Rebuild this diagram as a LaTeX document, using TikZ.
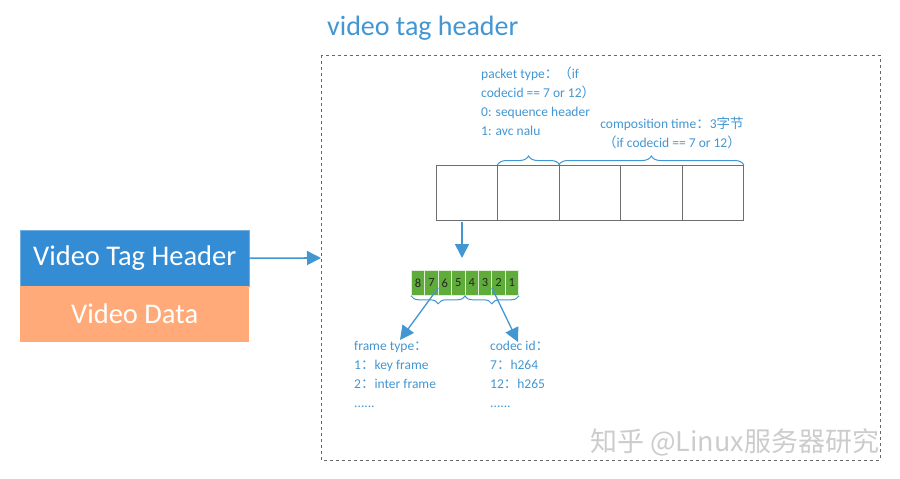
\documentclass[tikz,border=0pt]{standalone}
\usepackage{fontspec}
\setmainfont{Carlito}
\newfontfamily\cjk{Noto Sans CJK SC}
\usetikzlibrary{arrows.meta,decorations.pathreplacing}
\definecolor{tblue}{RGB}{66,150,210}
\definecolor{hblue}{RGB}{52,140,212}
\definecolor{dorange}{RGB}{255,170,120}
\definecolor{bgreen}{RGB}{96,172,58}
\definecolor{cellgray}{RGB}{110,110,110}
\tikzset{
  lbl/.style={text=tblue,font=\fontsize{13.5}{19}\selectfont,inner sep=0pt,anchor=north west,align=left},
  bytebox/.style={draw=cellgray,line width=0.9pt,minimum width=61.4pt,minimum height=55pt,inner sep=0pt},
  bitbox/.style={fill=bgreen,draw=white!80!bgreen,line width=0.8pt,minimum width=13.4pt,minimum height=25pt,inner sep=0pt,font=\fontsize{12.5}{12}\selectfont,text=black!85},
  conn/.style={draw=tblue,line width=1.6pt,-{Triangle[length=14pt,width=14pt]}},
  brc/.style={draw=tblue,line width=1pt,decorate,decoration={brace,amplitude=9pt}},
  bigbox/.style={minimum width=229pt,minimum height=56pt,inner sep=0pt,text=white,font=\fontsize{28.5}{28}\selectfont}
}
\newcommand{\fc}{{\cjk ：}}
\begin{document}
\begin{tikzpicture}[x=1pt,y=-1pt]
\useasboundingbox (0,0) rectangle (900,479);
\node[text=tblue,font=\fontsize{28}{28}\selectfont,anchor=base west,inner sep=0pt] (title) at (327,35) {video tag header};
\draw[dashed,draw=black!60,line width=0.8pt] (321,55) rectangle (880,460);
\node[bigbox,fill=hblue,draw=hblue!70!white,anchor=north west] (vth) at (20,230) {Video Tag Header};
\node[bigbox,fill=dorange,anchor=north west] (vd) at (20,286) {Video Data};
\coordinate (entry) at (321,258);
\draw[conn] (vth.east) -- (entry);
% byte boxes
\foreach \i in {0,...,4}{
  \node[bytebox,anchor=north west] (b\i) at (436+61.4*\i,165) {};
}
\draw[brc] (b1.north west) -- (b1.north east);
\draw[brc] (b2.north west) -- (b4.north east);
\node[lbl] (pt) at (481,67) {packet type\fc{\cjk （}if\\codecid == 7 or 12{\cjk ）}\\0: sequence header\\1: avc nalu};
\node[lbl,anchor=north,align=center] (ct) at (672,117) {composition time\fc 3{\cjk 字节}\\{\cjk （}if codecid == 7 or 12{\cjk ）}};
% bits
\foreach \i/\t in {0/8,1/7,2/6,3/5,4/4,5/3,6/2,7/1}{
  \node[bitbox,anchor=north west] (bit\i) at (411+13.4*\i,270) {\t};
}
\coordinate (down) at (462,258);
\draw[conn] (462,222) -- (down);
\draw[brc,decoration={brace,mirror,amplitude=8pt}] (bit0.south west) -- (bit3.south east) coordinate[pos=0.5,yshift=8pt] (t1);
\draw[brc,decoration={brace,mirror,amplitude=8pt}] (bit4.south west) -- (bit7.south east) coordinate[pos=0.5,yshift=8pt] (t2);
\coordinate (a1) at (400,340);
\coordinate (a2) at (518,342);
\draw[conn,line width=1.3pt] (t1) -- (a1);
\draw[conn,line width=1.3pt] (t2) -- (a2);
\node[lbl] (ft) at (354,341) {frame type\fc\\1\fc key frame\\2\fc inter frame\\......};
\node[lbl] (ci) at (490,341) {codec id\fc\\7\fc h264\\12\fc h265\\......};
\node[text=black!20,font=\cjk\fontsize{27}{27}\selectfont,anchor=base west,inner sep=0pt] (wm) at (590,451) {知乎 @Linux服务器研究};
\end{tikzpicture}
\end{document}
